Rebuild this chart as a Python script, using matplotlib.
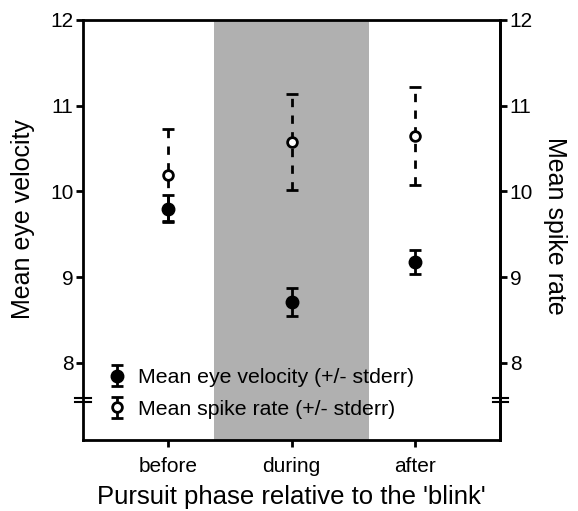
import matplotlib.pyplot as plt
import numpy as np

plt.rcParams['font.family'] = ['Liberation Sans', 'DejaVu Sans']

phases = ['before', 'during', 'after']
eye_mean = [9.80, 8.71, 9.18]
eye_err = [0.16, 0.16, 0.14]
spike_mean = [10.19, 10.58, 10.65]
spike_err = [0.54, 0.56, 0.57]

blink_span = (1.37, 2.63)
ylim = (7.1, 12)
yticks = [8, 9, 10, 11, 12]
brk = 7.565

fig = plt.figure(figsize=(5.78, 5.11), dpi=100)
ax1 = fig.add_axes([0.1436, 0.139, 0.7215, 0.822])
ax2 = ax1.twinx()

x = np.arange(1, len(phases) + 1)

ax1.axvspan(*blink_span, color='#b0b0b0', lw=0, zorder=0)

eb1 = ax2.errorbar(x, eye_mean, yerr=eye_err, fmt='o', color='black',
                   ms=9, elinewidth=2, capsize=4.5, capthick=2,
                   label='Mean eye velocity (+/- stderr)', zorder=4)
eb2 = ax2.errorbar(x, spike_mean, yerr=spike_err, fmt='o', color='black',
                   mfc='white', mew=2, ms=7, elinewidth=2, capsize=4,
                   capthick=2, label='Mean spike rate (+/- stderr)', zorder=3)
eb2[-1][0].set_linestyle((0, (3, 3)))

for ax in (ax1, ax2):
    ax.set_ylim(*ylim)
    ax.set_yticks(yticks)
    ax.set_xlim(0.315, 3.685)
    for s in ax.spines.values():
        s.set_linewidth(2)
    ax.tick_params(width=2, length=5, labelsize=15, direction='out', pad=2)
ax2.spines['left'].set_visible(False)
ax2.spines['top'].set_visible(False)
ax2.spines['bottom'].set_visible(False)

ax1.set_xticks(x)
ax1.set_xticklabels(phases)
ax1.tick_params(axis='x', labelsize=15, pad=7)

ax1.set_ylabel('Mean eye velocity', fontsize=18)
ax1.yaxis.set_label_coords(-0.115, 0.525)
ax2.set_ylabel('Mean spike rate', fontsize=18, rotation=270)
ax2.yaxis.set_label_coords(1.16, 0.51)
ax1.set_xlabel("Pursuit phase relative to the 'blink'", fontsize=18.5, labelpad=7)

# axis break marks on both spines
for xa in (0, 1):
    for dy in (-0.025, 0.025):
        ax1.plot([xa - 0.018, xa + 0.018], [brk + dy, brk + dy], color='black',
                 lw=1.5, transform=ax1.get_yaxis_transform(), clip_on=False,
                 zorder=6)

ax2.legend(handles=[eb1, eb2], loc='lower left', bbox_to_anchor=(0.045, 0.03),
           frameon=False, fontsize=15.3, handlelength=0.6, handletextpad=0.7,
           labelspacing=0.6, borderaxespad=0)

plt.savefig('out.png')
